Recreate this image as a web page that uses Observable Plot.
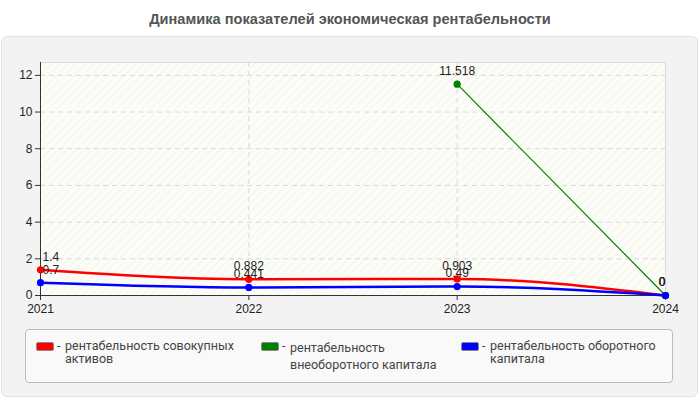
<!DOCTYPE html>
<html>
<head>
<meta charset="utf-8">
<script src="https://cdn.jsdelivr.net/npm/d3@7"></script>
<script src="https://cdn.jsdelivr.net/npm/@observablehq/plot@0.6"></script>
<style>
  html, body { margin: 0; padding: 0; background: #fff; }
  body { width: 700px; height: 400px; position: relative; overflow: hidden; font-family: "Liberation Sans", Arial, sans-serif; }
  #title { position: absolute; left: 0; top: 11px; width: 700px; text-align: center; font-weight: bold; font-size: 14.6px; color: #555; }
  #panel { position: absolute; left: 1px; top: 36px; width: 695px; height: 359px; background: #f3f3f3; border: 1px solid #e2e2e2; border-radius: 6px; }
  #chart { position: absolute; left: 0; top: 37px; }
  #legend { position: absolute; left: 25px; top: 329px; width: 646px; height: 52px; background: #f9f9f9; border: 1px solid #bbb; border-radius: 4px; font-family: Roboto, sans-serif; font-size: 12.5px; color: #444; }
  .item { position: absolute; top: 9px; line-height: 13px; }
  .sw { position: absolute; left: 0; top: 3px; width: 16px; height: 7px; border: 1px solid #888; border-radius: 2px; }
  .dash { position: absolute; left: 21px; top: 0; }
  .txt { position: absolute; left: 29px; top: 0; white-space: nowrap; }
</style>
</head>
<body>
<div id="title">Динамика показателей экономическая рентабельности</div>
<div id="panel"></div>
<div id="chart"></div>
<div id="legend"></div>
<script>
const years = [2021, 2022, 2023, 2024];
const seriesNames = ["рентабельность совокупных активов", "рентабельность внеоборотного капитала", "рентабельность оборотного капитала"];
const seriesColors = ["#ff0000", "#008000", "#0000ff"];
const seriesWidths = [2.5, 1.2, 2.5];
const totalAssets = [1.4, 0.882, 0.903, 0];
const nonCurrentCapital = [null, null, 11.518, 0];
const currentCapital = [0.7, 0.441, 0.49, 0];
const yTicks = [0, 2, 4, 6, 8, 10, 12];
const legendLines = [["рентабельность совокупных", "активов"], ["рентабельность", "внеоборотного капитала"], ["рентабельность оборотного", "капитала"]];

const allSeries = [totalAssets, nonCurrentCapital, currentCapital];
const rows = [];
allSeries.forEach((vals, si) => {
  vals.forEach((v, i) => { if (v !== null) rows.push({series: seriesNames[si], year: years[i], value: v, idx: i}); });
});

const marks = [
  Plot.frame({fill: "url(#hatch)", stroke: "#dddddd"}),
  Plot.gridY(yTicks, {stroke: "#d8d8d8", strokeOpacity: 1, strokeDasharray: "5,4"}),
  Plot.gridX(years, {stroke: "#d8d8d8", strokeOpacity: 1, strokeDasharray: "5,4"}),
  Plot.ruleX([years[0]], {stroke: "#333"}),
  Plot.ruleY([0], {stroke: "#333"}),
  Plot.axisY(yTicks, {tickSize: 5, tickPadding: 3, fontSize: 12, fill: "#222", stroke: "#333", label: null}),
  Plot.axisX(years, {tickSize: 5, tickPadding: 4, fontSize: 12, fill: "#222", stroke: "#333", label: null, tickFormat: d => String(d)})
];
allSeries.forEach((vals, si) => {
  const data = rows.filter(r => r.series === seriesNames[si]);
  marks.push(Plot.line(data, {x: "year", y: "value", stroke: seriesColors[si], strokeWidth: seriesWidths[si], curve: "monotone-x"}));
});
allSeries.forEach((vals, si) => {
  const data = rows.filter(r => r.series === seriesNames[si]);
  marks.push(Plot.dot(data, {x: "year", y: "value", fill: seriesColors[si], r: 3.6}));
});
const labelStyle = {x: "year", y: "value", text: d => String(d.value), fontSize: 12, fill: "#222", dy: -13};
marks.push(Plot.text(rows.filter(r => r.idx === 0), {...labelStyle, textAnchor: "start", dx: 2}));
marks.push(Plot.text(rows.filter(r => r.idx > 0 && r.idx < years.length - 1), {...labelStyle, textAnchor: "middle"}));
marks.push(Plot.text(rows.filter(r => r.idx === years.length - 1), {...labelStyle, textAnchor: "end", dx: 0}));

const svg = Plot.plot({
  width: 700,
  height: 290,
  marginLeft: 40,
  marginRight: 35,
  marginTop: 25,
  marginBottom: 32,
  style: {background: "transparent", fontFamily: "'Liberation Sans', Arial, sans-serif", overflow: "visible"},
  x: {domain: [years[0], years[years.length - 1]], axis: null},
  y: {domain: [0, 12.7], axis: null},
  marks
});
const ns = "http://www.w3.org/2000/svg";
const defs = document.createElementNS(ns, "defs");
defs.innerHTML = '<pattern id="hatch" patternUnits="userSpaceOnUse" width="6" height="6" patternTransform="rotate(-45)"><rect width="6" height="6" fill="#fdfdf7"/><line x1="0" y1="0" x2="6" y2="0" stroke="#ececec" stroke-width="1"/></pattern>';
svg.insertBefore(defs, svg.firstChild);
document.getElementById("chart").appendChild(svg);

const legend = document.getElementById("legend");
const lefts = [10, 235, 435];
seriesNames.forEach((name, i) => {
  const item = document.createElement("div");
  item.className = "item";
  item.style.left = lefts[i] + "px";
  item.innerHTML = `<div class="sw" style="background:${seriesColors[i]}"></div><div class="dash">-</div><div class="txt">${legendLines[i][0]}<br>${legendLines[i][1]}</div>`;
  if (i === 1) item.querySelector(".txt").style.lineHeight = "17px";
  legend.appendChild(item);
});
</script>
</body>
</html>
